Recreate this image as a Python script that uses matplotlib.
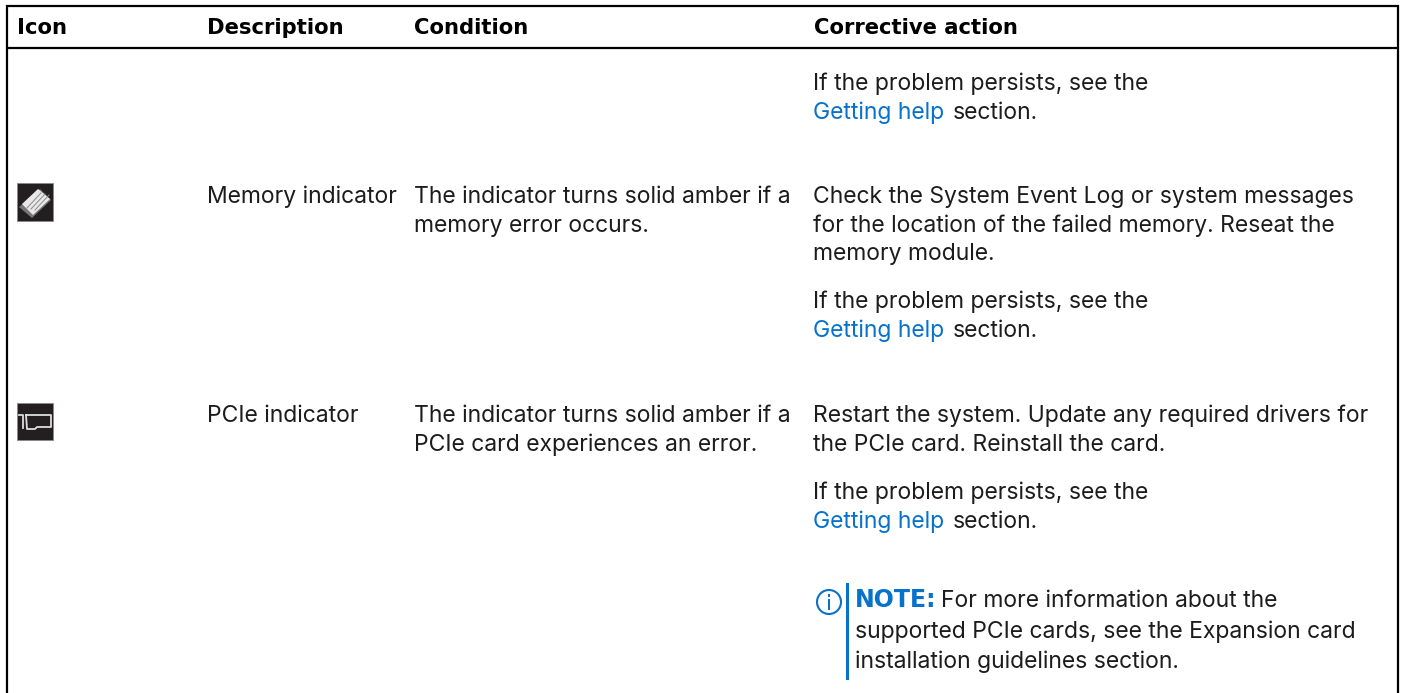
import matplotlib
matplotlib.use("Agg")
import matplotlib.pyplot as plt
from matplotlib.patches import Rectangle, Circle, Polygon

BLACK = "#1c1c1c"
BLUE = "#0672cb"
FONT_PX = 22.95
BOLD_PX = 21.2
NOTE_PX = 23.6

headers = ["Icon", "Description", "Condition", "Corrective action"]
descriptions = ["Memory indicator", "PCIe indicator"]
conditions = [
    ["The indicator turns solid amber if a", "memory error occurs."],
    ["The indicator turns solid amber if a", "PCIe card experiences an error."],
]
actions = [
    ["Check the System Event Log or system messages",
     "for the location of the failed memory. Reseat the",
     "memory module."],
    ["Restart the system. Update any required drivers for",
     "the PCIe card. Reinstall the card."],
]
persists = "If the problem persists, see the"
link = "Getting help"
after_link = "section."
note_label = "NOTE:"
note_lines = ["For more information about the",
              "supported PCIe cards, see the Expansion card",
              "installation guidelines section."]

# layout, in pixels of the page
col_x = [17, 207, 414, 814]
persist_y = [90, 308, 499]
row_y = [203, 422]
action_y = [203, 232, 260]
action2_y = [422, 451]
note_y = [607, 638, 668]

plt.rcParams['font.family'] = ['Inter', 'DejaVu Sans']
plt.rcParams['font.size'] = FONT_PX * 0.72

fig = plt.figure(figsize=(14.02, 6.93), dpi=100, facecolor='w')
ax = fig.add_axes([0, 0, 1, 1])
ax.set_xlim(0, 1402)
ax.set_ylim(693, 0)
ax.axis('off')


def put(x, y, s, **kw):
    kw.setdefault('color', BLACK)
    ax.text(x, y, s, va='baseline', ha='left', **kw)


def put_bold(x, y, s, color='k', px=BOLD_PX):
    put(x, y, s, color=color, fontweight='bold', family='DejaVu Sans', fontsize=px * 0.72)


# table frame, open at the bottom
ax.plot([7, 7], [5, 693], color='k', lw=1.6, solid_capstyle='butt')
ax.plot([1398, 1398], [5, 693], color='k', lw=1.6, solid_capstyle='butt')
ax.plot([6, 1399], [6, 6], color='k', lw=1.6, solid_capstyle='butt')
ax.plot([6, 1399], [48, 48], color='k', lw=1.6, solid_capstyle='butt')

for x, h in zip(col_x, headers):
    put_bold(x, 34, h)

for y in persist_y:
    put(813, y, persists)
    put(813, y + 29, link, color=BLUE)
    put(953, y + 29, after_link)

for i, y in enumerate(row_y):
    put(col_x[1], y, descriptions[i])
    for j, line in enumerate(conditions[i]):
        put(col_x[2], y + 29 * j, line)

for y, line in zip(action_y, actions[0]):
    put(813, y, line)
for y, line in zip(action2_y, actions[1]):
    put(813, y, line)

# note block
ax.add_patch(Circle((829, 602), 12, fc='w', ec=BLUE, lw=1.5))
ax.add_patch(Rectangle((827.6, 599), 2.8, 10.5, fc=BLUE, ec='none'))
ax.add_patch(Rectangle((827.6, 594), 2.8, 3, fc=BLUE, ec='none'))
ax.add_patch(Rectangle((846, 583), 2.6, 97, fc=BLUE, ec='none'))
put_bold(855, note_y[0], note_label, color=BLUE, px=NOTE_PX)
put(941, note_y[0], note_lines[0])
put(855, note_y[1], note_lines[1])
put(855, note_y[2], note_lines[2])

# memory icon
ax.add_patch(Rectangle((17, 183), 36, 38, fc='#231f20', ec='#8a8a8a', lw=0.6))
ax.add_patch(Polygon([(19, 207), (40, 189), (51, 200), (32, 218)], fc='#777777', ec='none'))
ax.add_patch(Polygon([(22, 204), (38, 189), (50, 199), (33, 215)], fc='#e8e8e8', ec='none'))
for k in range(3):
    ax.plot([27 + 4 * k, 41 + 4 * k], [208 + k, 193 + k], color='#8c8c8c', lw=0.7)

# PCIe icon
ax.add_patch(Rectangle((17, 403), 36, 37, fc='#231f20', ec='#8a8a8a', lw=0.6))
ax.plot([19, 23, 23], [415, 415, 428], color='#dddddd', lw=1.3)
ax.plot([26, 51, 51, 37, 35, 27, 26],
        [415, 415, 427, 427, 429, 429, 415], color='#dddddd', lw=1.3)

fig.savefig("out.png", dpi=100)
